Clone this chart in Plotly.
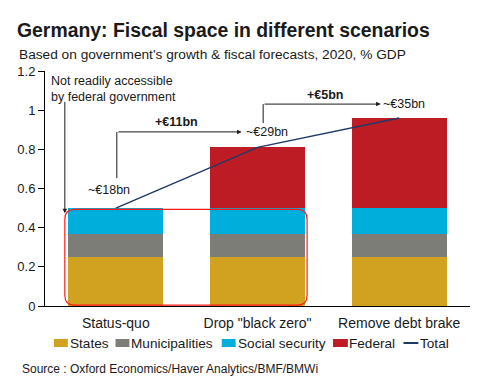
import plotly.graph_objects as go

# ---------------- data ----------------
categories = ["Status-quo", "Drop \"black zero\"", "Remove debt brake"]
states = [0.25, 0.25, 0.25]
municipalities = [0.12, 0.12, 0.12]
social_security = [0.13, 0.13, 0.13]
federal = [0.0, 0.31, 0.46]
total = [0.50, 0.81, 0.96]
series_names = ["States", "Municipalities", "Social security", "Federal", "Total"]
total_labels = ["~€18bn", "~€29bn", "~€35bn"]
step_labels = ["+€11bn", "+€5bn"]

colors = {
    "States": "#D1A220",
    "Municipalities": "#7D7D78",
    "Social security": "#00AEDB",
    "Federal": "#BE1C24",
    "Total": "#1F3A68",
}

FONT = "Liberation Sans, Arial, sans-serif"
TXT = "#1a1a1a"

# the page body has an 8px margin, so the figure is placed at (8, 8)
OFF = 8
W, H = 479 - OFF, 381 - OFF
L, T = 42 - OFF, 71 - OFF
R = 479 - 470
B = 381 - 306
PW, PH = W - L - R, H - T - B


def px_x(px):
    return (px - OFF - L) / PW


def px_y(py):
    return (H + OFF - B - py) / PH


xs = list(range(len(categories)))

fig = go.Figure()
for name, vals in [("States", states), ("Municipalities", municipalities),
                   ("Social security", social_security), ("Federal", federal)]:
    fig.add_trace(go.Bar(x=xs, y=vals, name=name, marker_color=colors[name],
                         marker_line_width=0, width=0.67, showlegend=False))
fig.add_trace(go.Scatter(x=xs, y=total, name="Total", mode="lines",
                         line=dict(color=colors["Total"], width=1.5), showlegend=False))

shapes = []
annotations = []

# rounded red rectangle around non-federal parts
x0, x1, y0, y1 = -0.36, 1.35, 0.004, 0.493
rx, ry = 0.07, 0.05
path = (f"M {x0+rx},{y1} L {x1-rx},{y1} Q {x1},{y1} {x1},{y1-ry} "
        f"L {x1},{y0+ry} Q {x1},{y0} {x1-rx},{y0} L {x0+rx},{y0} "
        f"Q {x0},{y0} {x0},{y0+ry} L {x0},{y1-ry} Q {x0},{y1} {x0+rx},{y1} Z")
shapes.append(dict(type="path", path=path, xref="x", yref="y",
                   line=dict(color="#FF1A1A", width=1.2), fillcolor="rgba(0,0,0,0)"))

# "Not readily accessible" note + arrow
annotations.append(dict(x=-0.465, y=1.19, xref="x", yref="y", xanchor="left", yanchor="top",
                        align="left", showarrow=False, borderpad=0,
                        text="Not readily accessible<br>by federal government",
                        font=dict(size=12.5, color=TXT, family=FONT)))
annotations.append(dict(x=-0.36, y=0.474, ax=-0.36, ay=1.05, xref="x", yref="y",
                        axref="x", ayref="y", text="", showarrow=True, arrowhead=2,
                        arrowsize=0.9, arrowwidth=1, arrowcolor=TXT, standoff=0))

# total labels
annotations.append(dict(x=-0.05, y=0.592, xref="x", yref="y", showarrow=False,
                        text=total_labels[0], font=dict(size=12.5, color=TXT, family=FONT)))
annotations.append(dict(x=0.905, y=0.889, xref="x", yref="y", xanchor="left", showarrow=False,
                        text=total_labels[1], font=dict(size=12.5, color=TXT, family=FONT)))
annotations.append(dict(x=1.875, y=1.031, xref="x", yref="y", xanchor="left", showarrow=False,
                        text=total_labels[2], font=dict(size=12.5, color=TXT, family=FONT)))

# bracket 1
shapes.append(dict(type="line", xref="x", yref="y", x0=0.007, x1=0.007, y0=0.653, y1=0.889,
                   line=dict(color=TXT, width=1)))
annotations.append(dict(x=0.888, y=0.889, ax=0.007, ay=0.889, xref="x", yref="y",
                        axref="x", ayref="y", text="", showarrow=True, arrowhead=2,
                        arrowsize=0.9, arrowwidth=1, arrowcolor=TXT, standoff=0))
annotations.append(dict(x=0.425, y=0.939, xref="x", yref="y", showarrow=False,
                        text="<b>" + step_labels[0] + "</b>",
                        font=dict(size=12.5, color=TXT, family=FONT)))

# bracket 2
shapes.append(dict(type="line", xref="x", yref="y", x0=1.04, x1=1.04, y0=0.934, y1=1.031,
                   line=dict(color=TXT, width=1)))
annotations.append(dict(x=1.869, y=1.031, ax=1.04, ay=1.031, xref="x", yref="y",
                        axref="x", ayref="y", text="", showarrow=True, arrowhead=2,
                        arrowsize=0.9, arrowwidth=1, arrowcolor=TXT, standoff=0))
annotations.append(dict(x=1.476, y=1.077, xref="x", yref="y", showarrow=False,
                        text="<b>" + step_labels[1] + "</b>",
                        font=dict(size=12.5, color=TXT, family=FONT)))

# subtitle and source
annotations.append(dict(x=px_x(14), y=px_y(54), xref="paper", yref="paper", xanchor="left",
                        yanchor="middle", showarrow=False,
                        text="Based on government's growth & fiscal forecasts, 2020, % GDP",
                        font=dict(size=13.7, color=TXT, family=FONT)))
annotations.append(dict(x=px_x(17), y=px_y(369), xref="paper", yref="paper", xanchor="left",
                        yanchor="middle", showarrow=False,
                        text="Source : Oxford Economics/Haver Analytics/BMF/BMWi",
                        font=dict(size=12, color=TXT, family=FONT)))

# custom legend
legend_px = [(51, 65, 66), (113, 127, 128), (220, 234, 235), (332, 347, 347), (403, 418, 419)]
ly = 343
for name, (sx0, sx1, tx) in zip(series_names, legend_px):
    if name == "Total":
        shapes.append(dict(type="line", xref="paper", yref="paper", x0=px_x(sx0), x1=px_x(sx1),
                           y0=px_y(ly), y1=px_y(ly), line=dict(color=colors[name], width=2)))
    else:
        shapes.append(dict(type="rect", xref="paper", yref="paper", x0=px_x(sx0), x1=px_x(sx1),
                           y0=px_y(ly + 4), y1=px_y(ly - 4), fillcolor=colors[name],
                           line=dict(width=0)))
    annotations.append(dict(x=px_x(tx), y=px_y(ly), xref="paper", yref="paper", xanchor="left",
                            yanchor="middle", showarrow=False, text=name, borderpad=0,
                            font=dict(size=13.6, color=TXT, family=FONT)))

fig.update_layout(
    width=W, height=H,
    margin=dict(l=L, r=R, t=T, b=B),
    barmode="stack",
    plot_bgcolor="white", paper_bgcolor="white",
    font=dict(family=FONT, color=TXT),
    title=dict(text="<b>Germany: Fiscal space in different scenarios</b>",
               x=(17 - OFF) / W, xref="container", xanchor="left",
               y=1 - (30 - OFF) / H, yref="container", yanchor="middle",
               font=dict(size=19.4, color=TXT, family=FONT)),
    shapes=shapes,
    annotations=annotations,
    showlegend=False,
)
fig.update_xaxes(range=[-0.5, 2.5], tickvals=xs, ticktext=categories, showline=True,
                 linecolor="black", linewidth=1, ticks="", showgrid=False, zeroline=False,
                 tickfont=dict(size=14, color=TXT), ticklabelstandoff=4)
fig.update_yaxes(range=[0, 1.2], dtick=0.2, showline=True, linecolor="black", linewidth=1,
                 ticks="outside", ticklen=6, tickcolor="black", showgrid=False, zeroline=False,
                 tickfont=dict(size=13, color=TXT))

fig.write_html("out.html")
